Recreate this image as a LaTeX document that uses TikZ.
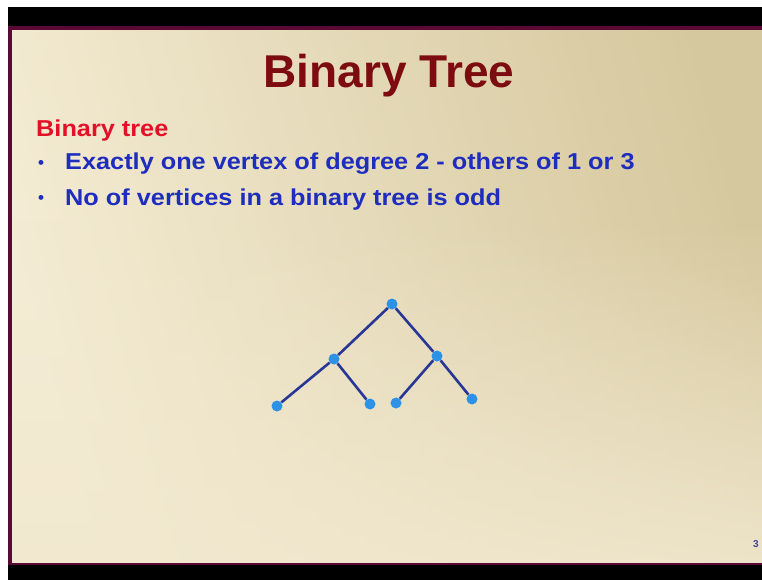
\documentclass[tikz,border=0pt]{standalone}
\usepackage{fontspec}
\setmainfont{Liberation Sans}
\usetikzlibrary{calc, fadings}
\definecolor{slidemaroon}{RGB}{90,10,50}
\definecolor{titlered}{RGB}{125,12,16}
\definecolor{headred}{RGB}{228,16,40}
\definecolor{textblue}{RGB}{30,45,190}
\definecolor{edgeblue}{RGB}{40,55,150}
\definecolor{vertblue}{RGB}{45,145,230}
\definecolor{creamleft}{RGB}{244,236,212}
\definecolor{tanright}{RGB}{214,200,158}
\tikzstyle{vert}=[circle, fill=vertblue, inner sep=0pt, minimum size=11pt]
\tikzstyle{edge}=[edgeblue, line width=2.6pt]
\tikzstyle{bullettext}=[anchor=base west, text=textblue, font=\fontsize{23}{27}\selectfont\bfseries, inner sep=0pt, xscale=1.1]
\tikzstyle{bulletdot}=[anchor=base west, text=textblue, font=\fontsize{17}{20}\selectfont\bfseries, inner sep=0pt]

\begin{document}
\begin{tikzpicture}[x=1pt, y=-1pt]
    \useasboundingbox (0,0) rectangle (762,580);
    \fill[white] (0,0) rectangle (762,580);
    % slide frame
    \fill[black] (8,7) rectangle (770,580);
    \shade[left color=creamleft, right color=tanright, shading angle=105]
        (8,28) rectangle (775,563);
    \fill[creamleft!90!tanright, path fading=north, opacity=0.85]
        (8,220) rectangle (775,563);
    \draw[slidemaroon, line width=4pt] (10,563) -- (10,28) -- (770,28);
    \draw[slidemaroon, line width=2pt] (8,564) -- (770,564);
    % texts
    \node[text=titlered, font=\fontsize{46}{50}\selectfont\bfseries] (title) at (389,76) {Binary Tree};
    \node[anchor=base west, text=headred, font=\fontsize{23}{26}\selectfont\bfseries, inner sep=0pt, xscale=1.1] (head) at (36,137) {Binary tree};
    \node[bulletdot] (b1) at (38,168) {\textbullet};
    \node[bullettext] (t1) at (65,170) {Exactly one vertex of degree 2 - others of 1 or 3};
    \node[bulletdot] (b2) at (38,203) {\textbullet};
    \node[bullettext] (t2) at (65,205) {No of vertices in a binary tree is odd};
    % tree
    \node[vert] (vr) at (392,304) {};
    \node[vert] (v0) at (334,359) {};
    \node[vert] (v1) at (437,356) {};
    \node[vert] (v2) at (277,406) {};
    \node[vert] (v3) at (370,404) {};
    \node[vert] (v4) at (396,403) {};
    \node[vert] (v5) at (472,399) {};
    \draw[edge] (vr) -- (v0);
    \draw[edge] (vr) -- (v1);
    \draw[edge] (v0) -- (v2);
    \draw[edge] (v0) -- (v3);
    \draw[edge] (v1) -- (v4);
    \draw[edge] (v1) -- (v5);
    % page number
    \node[anchor=base west, text=edgeblue!80!gray, font=\fontsize{10}{12}\selectfont\bfseries, inner sep=0pt] (pg) at (753,547) {3};
\end{tikzpicture}
\end{document}
